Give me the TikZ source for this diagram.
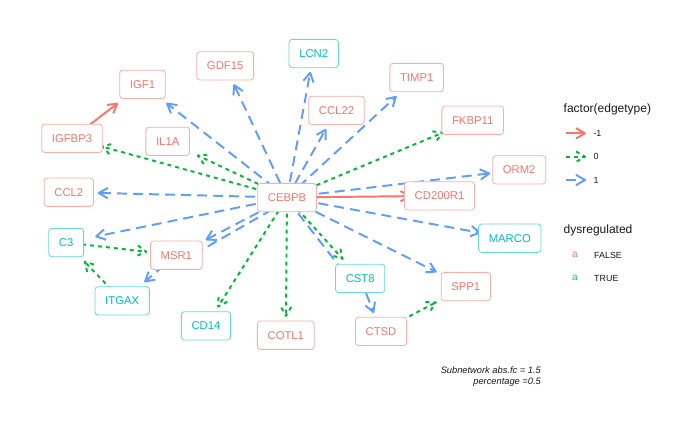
\documentclass[tikz,border=0pt]{standalone}
\usepackage{fontspec}
\setmainfont{Liberation Sans}
\usetikzlibrary{calc,decorations.markings}
\definecolor{cred}{HTML}{F8766D}
\definecolor{cteal}{HTML}{00BFC4}
\definecolor{cgreen}{HTML}{00BA38}
\definecolor{cblue}{HTML}{619CFF}
\definecolor{ctext}{HTML}{1A1A1A}
\tikzset{
  lab/.style={draw=#1!60, line width=0.8pt, fill=white, rounded corners=3pt, text=#1,
    font=\fontsize{11.3}{13}\selectfont, inner xsep=10.2pt, inner ysep=0pt,
    minimum height=28.3pt, text height=8.1pt, text depth=0pt},
  capbox/.style={inner sep=0pt, outer sep=0pt, minimum width=60pt, minimum height=38.6pt},
  eblueline/.style={draw=cblue, line width=1.95pt, dash pattern=on 10pt off 6pt},
  eblue/.style={eblueline, postaction={decorate, decoration={markings,
    mark=at position 1 with {\draw[cblue, solid, line width=1.95pt, line join=round] (-9pt,5.2pt) -- (0pt,0pt) -- (-9pt,-5.2pt);}}}},
  egreen/.style={draw=cgreen, line width=1.95pt, dash pattern=on 4pt off 4pt, postaction={decorate, decoration={markings,
    mark=at position 1 with {\draw[cgreen, dash pattern=on 4pt off 4pt, line width=1.95pt, line join=round] (-9pt,5.2pt) -- (0pt,0pt) -- (-9pt,-5.2pt);}}}},
  ered/.style={draw=cred, line width=1.95pt, postaction={decorate, decoration={markings,
    mark=at position 1 with {\draw[cred, solid, line width=1.95pt, line join=round] (-9pt,5.2pt) -- (0pt,0pt) -- (-9pt,-5.2pt);}}}},
  legtitle/.style={anchor=base west, text=ctext, font=\fontsize{12}{14}\selectfont, inner sep=0pt},
  legtext/.style={anchor=west, text=ctext, font=\fontsize{8.9}{10}\selectfont, inner sep=0pt},
  captext/.style={anchor=base east, text=ctext, font=\itshape\fontsize{9.3}{11}\selectfont, inner sep=0pt}
}
\begin{document}
\begin{tikzpicture}[x=1pt, y=-1pt]
\fill[white] (0,0) rectangle (700,432);
\useasboundingbox (0,0) rectangle (700,432);
% invisible caps at node centres
\node[capbox] (kIGF1) at (142.5,84.3) {};
\node[capbox] (kGDF15) at (225.2,65.8) {};
\node[capbox] (kLCN2) at (313.7,53.5) {};
\node[capbox] (kTIMP1) at (416.7,77.5) {};
\node[capbox] (kCCL22) at (336.5,110.3) {};
\node[capbox] (kFKBP11) at (472.7,120.2) {};
\node[capbox] (kIGFBP3) at (72,138.3) {};
\node[capbox] (kIL1A) at (167.7,141.3) {};
\node[capbox] (kORM2) at (519.2,169.8) {};
\node[capbox] (kCCL2) at (68.8,192.2) {};
\node[capbox] (kCEBPB) at (287,197.5) {};
\node[capbox] (kCD200R1) at (439.5,195.8) {};
\node[capbox] (kMARCO) at (509.8,238.2) {};
\node[capbox] (kC3) at (66.2,242.5) {};
\node[capbox] (kMSR1) at (176.3,255.2) {};
\node[capbox] (kCST8) at (360.2,278.3) {};
\node[capbox] (kSPP1) at (465.8,286.5) {};
\node[capbox] (kITGAX) at (122.2,300.8) {};
\node[capbox] (kCD14) at (206,325.8) {};
\node[capbox] (kCOTL1) at (285.8,335.2) {};
\node[capbox] (kCTSD) at (381,331.3) {};
% edges type 1
\draw[eblue] (kCEBPB.center) -- (kIGF1);
\draw[eblue] (kCEBPB.center) -- (kGDF15);
\draw[eblue] (kCEBPB.center) -- (kLCN2);
\draw[eblue] (kCEBPB.center) -- (kCCL22);
\draw[eblue] (kCEBPB.center) -- (kTIMP1);
\draw[eblue] (kCEBPB.center) -- (kORM2);
\draw[eblue] (kCEBPB.center) -- (kCCL2);
\draw[eblue] (kCEBPB.center) -- (kC3);
\draw[eblue] (kCEBPB.center) -- (kMSR1);
\draw[eblue] (kCEBPB.center) -- (kMARCO);
\draw[eblue] (kCEBPB.center) -- (kSPP1);
\draw[eblue] (kMSR1.center) -- (kITGAX);
\draw[eblue] (kCST8.center) -- (kCTSD);
\draw[eblueline] ([shift={(3.7,7.1)}]kMSR1.center) -- ([shift={(1.4,2.7)}]kCEBPB.center);
\draw[eblueline] ([shift={(-6.7,6.0)}]kCST8.center) -- ([shift={(-0.7,0.7)}]kCEBPB.center);
% edges type 0
\draw[egreen] (kCEBPB.center) -- (kIGFBP3);
\draw[egreen] (kCEBPB.center) -- (kIL1A);
\draw[egreen] (kCEBPB.center) -- (kFKBP11);
\draw[egreen] (kCEBPB.center) -- (kCD14);
\draw[egreen] (kCEBPB.center) -- (kCOTL1);
\draw[egreen] (kCEBPB.center) -- (kCST8);
\draw[egreen] (kC3.center) -- (kMSR1);
\draw[egreen] (kITGAX.center) -- (kC3);
\draw[egreen] (kCTSD.center) -- (kSPP1);
% edges type -1
\draw[ered] (kIGFBP3.center) -- (kIGF1);
\draw[ered] (kCEBPB.center) -- (kCD200R1);
% labels
\node[lab=cred] (IGF1) at (kIGF1) {IGF1};
\node[lab=cred] (GDF15) at (kGDF15) {GDF15};
\node[lab=cteal] (LCN2) at (kLCN2) {LCN2};
\node[lab=cred] (TIMP1) at (kTIMP1) {TIMP1};
\node[lab=cred] (CCL22) at (kCCL22) {CCL22};
\node[lab=cred] (FKBP11) at (kFKBP11) {FKBP11};
\node[lab=cred] (IGFBP3) at (kIGFBP3) {IGFBP3};
\node[lab=cred] (IL1A) at (kIL1A) {IL1A};
\node[lab=cred] (ORM2) at (kORM2) {ORM2};
\node[lab=cred] (CCL2) at (kCCL2) {CCL2};
\node[lab=cred] (CEBPB) at (kCEBPB) {CEBPB};
\node[lab=cred] (CD200R1) at (kCD200R1) {CD200R1};
\node[lab=cteal] (MARCO) at (kMARCO) {MARCO};
\node[lab=cteal] (C3) at (kC3) {C3};
\node[lab=cred] (MSR1) at (kMSR1) {MSR1};
\node[lab=cteal] (CST8) at (kCST8) {CST8};
\node[lab=cred] (SPP1) at (kSPP1) {SPP1};
\node[lab=cteal] (ITGAX) at (kITGAX) {ITGAX};
\node[lab=cteal] (CD14) at (kCD14) {CD14};
\node[lab=cred] (COTL1) at (kCOTL1) {COTL1};
\node[lab=cred] (CTSD) at (kCTSD) {CTSD};
% legend: edge type
\node[legtitle] (lt1) at (563.5,112.3) {factor(edgetype)};
\coordinate (ka1) at (566,133.3); \coordinate (kb1) at (585,133.3);
\coordinate (ka2) at (566,156.7); \coordinate (kb2) at (585,156.7);
\coordinate (ka3) at (566,180);   \coordinate (kb3) at (585,180);
\draw[ered] (ka1) -- (kb1);
\draw[egreen] (ka2) -- (kb2);
\draw[eblue] (ka3) -- (kb3);
\node[legtext] (l1) at (593.3,133.3) {-1};
\node[legtext] (l2) at (593.3,156.7) {0};
\node[legtext] (l3) at (593.3,180) {1};
% legend: dysregulated
\node[legtitle] (lt2) at (563.5,233.5) {dysregulated};
\node[text=cred, font=\fontsize{10}{12}\selectfont, inner sep=0pt] (la) at (575,255) {a};
\node[text=cteal, font=\fontsize{10}{12}\selectfont, inner sep=0pt] (lb) at (575,278.3) {a};
\node[legtext] (l4) at (594,255) {FALSE};
\node[legtext] (l5) at (594,278.3) {TRUE};
% caption
\node[captext] (cap1) at (541,373) {Subnetwork abs.fc = 1.5};
\node[captext] (cap2) at (541,384.5) {percentage =0.5};
\end{tikzpicture}
\end{document}
